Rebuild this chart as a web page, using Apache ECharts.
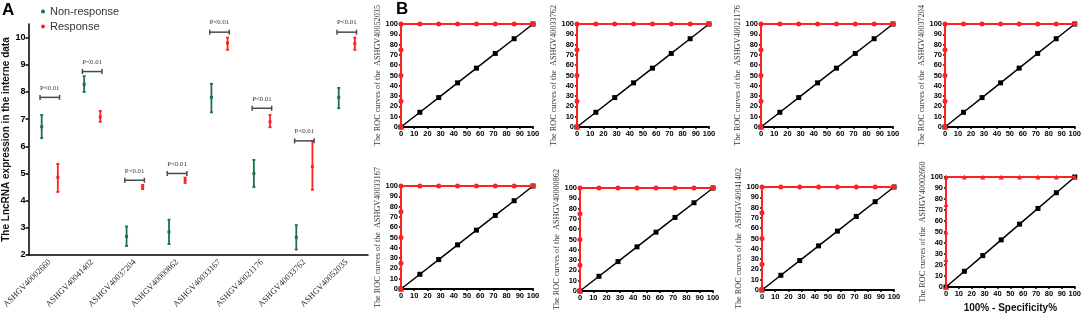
<!DOCTYPE html>
<html>
<head>
<meta charset="utf-8">
<script src="https://cdn.jsdelivr.net/npm/echarts@6/dist/echarts.min.js"></script>
<style>
  html, body { margin: 0; padding: 0; background: #fff; }
  #main { width: 1084px; height: 314px; }
</style>
</head>
<body>
<div id="main"></div>
<script>
// panel A data
var genes = ['ASHGV40002660', 'ASHGV40041402', 'ASHGV40037204', 'ASHGV40000862',
  'ASHGV40033167', 'ASHGV40021176', 'ASHGV40033762', 'ASHGV40052035'];
var nonMean = [6.72, 8.28, 2.68, 2.85, 7.8, 5.0, 2.65, 7.8];
var nonLow = [6.3, 8.0, 2.33, 2.4, 7.25, 4.5, 2.2, 7.4];
var nonHigh = [7.15, 8.58, 3.05, 3.3, 8.3, 5.5, 3.1, 8.15];
var respMean = [4.86, 7.08, 4.5, 4.75, 9.8, 6.9, 5.25, 9.78];
var respLow = [4.32, 6.9, 4.42, 4.65, 9.55, 6.7, 4.4, 9.55];
var respHigh = [5.35, 7.3, 4.58, 4.85, 10.0, 7.15, 6.2, 10.0];
var bracketY = [7.8, 8.75, 4.75, 5.0, 10.2, 7.4, 6.2, 10.2];
var pText = ['P<0.01', 'P<0.01', 'P<0.01', 'P<0.01', 'P<0.01', 'P<0.01', 'P<0.01', 'P<0.01'];

// panel B data (same ROC in all eight plots)
var rocGenes = ['ASHGV40052035', 'ASHGV40033762', 'ASHGV40021176', 'ASHGV40037204',
  'ASHGV40033167', 'ASHGV40000862', 'ASHGV40041402', 'ASHGV40002660'];
var respRocX = [0, 0, 0, 0, 0, 14.29, 28.57, 42.86, 57.14, 71.43, 85.71, 100];
var respRocY = [0, 25, 50, 75, 100, 100, 100, 100, 100, 100, 100, 100];
var refRocX = [0, 14.29, 28.57, 42.86, 57.14, 71.43, 85.71, 100];
var refRocY = [0, 14.29, 28.57, 42.86, 57.14, 71.43, 85.71, 100];

var GREEN = '#1f7247';
var RED = '#ff2222';

var chart = echarts.init(document.getElementById('main'));

function errRender (side) {
  return function (params, api) {
    var ci = api.value(0);
    var w = api.size([1, 0])[0];
    var pm = api.coord([ci, api.value(1)]);
    var pl = api.coord([ci, api.value(2)]);
    var ph = api.coord([ci, api.value(3)]);
    var x = pm[0] + side * w * 0.19;
    var c = api.visual('color');
    var st = {stroke: c, lineWidth: 1.8};
    return {
      type: 'group',
      children: [
        {type: 'line', shape: {x1: x, y1: ph[1], x2: x, y2: pl[1]}, style: st},
        {type: 'line', shape: {x1: x - 1.5, y1: ph[1], x2: x + 1.5, y2: ph[1]}, style: st},
        {type: 'line', shape: {x1: x - 1.5, y1: pl[1], x2: x + 1.5, y2: pl[1]}, style: st},
        {type: 'rect', shape: {x: x - 1.5, y: pm[1] - 1.5, width: 3, height: 3}, style: {fill: c}}
      ]
    };
  };
}

function bracketRender (params, api) {
  var ci = api.value(0);
  var w = api.size([1, 0])[0];
  var p = api.coord([ci, api.value(1)]);
  var x1 = p[0] - w * 0.23, x2 = p[0] + w * 0.23;
  var st = {stroke: '#4a4a4a', lineWidth: 1.5};
  return {
    type: 'group',
    children: [
      {type: 'line', shape: {x1: x1, y1: p[1], x2: x2, y2: p[1]}, style: st},
      {type: 'line', shape: {x1: x1, y1: p[1] - 2.5, x2: x1, y2: p[1] + 2.5}, style: st},
      {type: 'line', shape: {x1: x2, y1: p[1] - 2.5, x2: x2, y2: p[1] + 2.5}, style: st},
      {type: 'text', x: p[0], y: p[1] - 6, style: {
        text: pText[params.dataIndex], fill: '#333', font: '6.8px "Liberation Serif"',
        align: 'center', verticalAlign: 'bottom'
      }}
    ]
  };
}

var grids = [{left: 24, top: 24, width: 344, height: 231}];
var xAxes = [{
  type: 'category', gridIndex: 0, data: genes, boundaryGap: true,
  axisLine: {lineStyle: {color: '#000', width: 1.5}},
  axisTick: {alignWithLabel: true, length: 4, lineStyle: {width: 1.5, color: '#000'}},
  axisLabel: {rotate: 45, interval: 0, margin: 6, color: '#222', fontSize: 8.5, fontFamily: 'Liberation Serif'}
}];
var yAxes = [{
  type: 'value', gridIndex: 0, min: 2, max: 10.5, interval: 1,
  name: 'The LncRNA expression in the interne data', nameLocation: 'middle', nameGap: 12,
  nameTextStyle: {fontSize: 10, fontWeight: 'bold', color: '#111', fontFamily: 'Liberation Sans'},
  axisLine: {show: true, lineStyle: {color: '#000', width: 1.5}},
  axisTick: {show: true, length: 3, lineStyle: {width: 1.5, color: '#000'}},
  axisLabel: {fontSize: 9, fontWeight: 'bold', color: '#000', margin: 3, showMaxLabel: false,
    formatter: function (v) { return v % 1 === 0 ? v : ''; }},
  splitLine: {show: false}
}];

var series = [
  {
    name: 'Non-response', type: 'custom', xAxisIndex: 0, yAxisIndex: 0,
    itemStyle: {color: GREEN}, renderItem: errRender(-1),
    encode: {x: 0, y: [1, 2, 3]},
    data: genes.map(function (g, i) { return [i, nonMean[i], nonLow[i], nonHigh[i]]; })
  },
  {
    name: 'Response', type: 'custom', xAxisIndex: 0, yAxisIndex: 0,
    itemStyle: {color: RED}, renderItem: errRender(1),
    encode: {x: 0, y: [1, 2, 3]},
    data: genes.map(function (g, i) { return [i, respMean[i], respLow[i], respHigh[i]]; })
  },
  {
    type: 'custom', xAxisIndex: 0, yAxisIndex: 0, renderItem: bracketRender,
    encode: {x: 0, y: 1}, silent: true,
    data: genes.map(function (g, i) { return [i, bracketY[i]]; })
  }
];

// ROC plot boxes [left, top, width, height]
var rocBoxes = [
  [401, 24, 132, 103], [577, 24, 132, 103], [761, 24, 132, 103], [945, 24, 133, 103],
  [401, 186, 132, 103], [580, 188, 133, 103], [762, 187, 132, 103], [946, 177, 131, 110]
];

rocBoxes.forEach(function (b, k) {
  var gi = k + 1;
  grids.push({left: b[0], top: b[1], width: b[2], height: b[3]});
  xAxes.push({
    type: 'value', gridIndex: gi, min: 0, max: 100, interval: 10,
    name: k === 7 ? '100% - Specificity%' : '', nameLocation: 'middle', nameGap: 16,
    nameTextStyle: {fontSize: 10, fontWeight: 'bold', color: '#111'},
    axisLine: {lineStyle: {color: '#000', width: 2}},
    axisTick: {length: 2, lineStyle: {color: '#000', width: 1.5}},
    axisLabel: {fontSize: 7.5, fontWeight: 'bold', color: '#000', margin: 3},
    splitLine: {show: false}
  });
  yAxes.push({
    type: 'value', gridIndex: gi, min: 0, max: 100, interval: 10,
    name: 'The ROC curves of the  ' + rocGenes[k], nameLocation: 'middle', nameGap: 9,
    nameTextStyle: {fontSize: 8.2, color: '#333', fontFamily: 'Liberation Serif'},
    axisLine: {show: true, lineStyle: {color: '#000', width: 2}},
    axisTick: {show: true, length: 2, lineStyle: {color: '#000', width: 1.5}},
    axisLabel: {fontSize: 7.5, fontWeight: 'bold', color: '#000', margin: 3},
    splitLine: {show: false}
  });
  series.push({
    type: 'line', xAxisIndex: gi, yAxisIndex: gi, clip: false, silent: true,
    symbol: 'rect', symbolSize: 5,
    lineStyle: {color: '#000', width: 1.5}, itemStyle: {color: '#000'},
    data: refRocX.map(function (x, i) { return [x, refRocY[i]]; }), z: 3
  });
  series.push({
    type: 'line', xAxisIndex: gi, yAxisIndex: gi, clip: false, silent: true,
    symbol: k === 7 ? 'triangle' : 'circle', symbolSize: 5,
    lineStyle: {color: RED, width: 2}, itemStyle: {color: RED},
    data: respRocX.map(function (x, i) { return [x, respRocY[i]]; }), z: 4
  });
});

chart.setOption({
  animation: false,
  textStyle: {fontFamily: 'Liberation Sans'},
  legend: {
    data: ['Non-response', 'Response'], orient: 'vertical', left: 36, top: 1,
    icon: 'circle', itemWidth: 4, itemHeight: 4, itemGap: 4,
    textStyle: {fontSize: 11, color: '#333'}
  },
  graphic: [
    {type: 'text', left: 2, top: 2, style: {text: 'A', font: 'bold 17px "Liberation Sans"', fill: '#000'}},
    {type: 'text', left: 396, top: 1, style: {text: 'B', font: 'bold 17px "Liberation Sans"', fill: '#000'}}
  ],
  grid: grids,
  xAxis: xAxes,
  yAxis: yAxes,
  series: series
});
</script>
</body>
</html>
